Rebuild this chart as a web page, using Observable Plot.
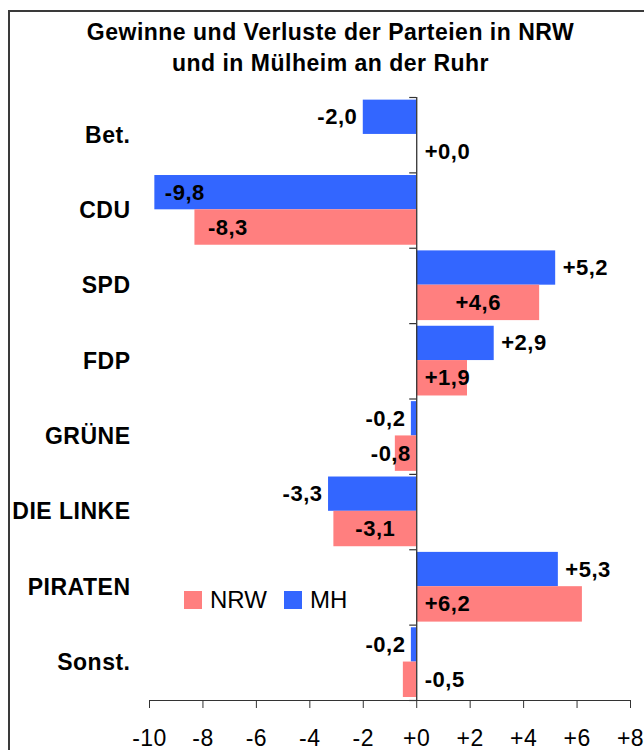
<!DOCTYPE html>
<html><head><meta charset="utf-8">
<script src="https://cdn.jsdelivr.net/npm/d3@7"></script>
<script src="https://cdn.jsdelivr.net/npm/@observablehq/plot@0.6"></script>
<style>
body{margin:0;background:#fff;}
#wrap{position:relative;width:644px;height:750px;overflow:hidden;background:#fff;font-family:'Liberation Sans',Arial,sans-serif;}
#frame{position:absolute;left:8px;top:10px;width:700px;height:800px;border:2px solid #3a3a3a;box-sizing:border-box;}
#title{position:absolute;left:0;top:17px;width:661px;text-align:center;font-weight:bold;font-size:23px;line-height:31px;letter-spacing:0.5px;color:#000;}
#chart{position:absolute;left:0;top:90px;}
#legend{position:absolute;left:184px;top:586px;}
#chart svg text{letter-spacing:0.5px;}
.lg-swatches{font-family:'Liberation Sans',Arial,sans-serif !important;font-size:24px !important;margin:0 !important;min-height:0 !important;color:#000;}
.lg-swatch{margin-right:17px !important;}
.lg-swatch > svg{margin-right:8px !important;}
</style>
</head>
<body>
<div id="wrap">
  <div id="title">Gewinne und Verluste der Parteien in NRW<br>und in Mülheim an der Ruhr</div>
  <div id="chart"></div>
  <div id="legend"></div>
  <div id="frame"></div>
</div>
<script>
const parties = ["Bet.", "CDU", "SPD", "FDP", "GRÜNE", "DIE LINKE", "PIRATEN", "Sonst."];
const mhValues = [-2.0, -9.8, 5.2, 2.9, -0.2, -3.3, 5.3, -0.2];
const nrwValues = [0.0, -8.3, 4.6, 1.9, -0.8, -3.1, 6.2, -0.5];
const seriesNames = ["NRW", "MH"];
const seriesColors = ["#FF7F7F", "#3366FF"];
const xTicks = [-10, -8, -6, -4, -2, 0, 2, 4, 6, 8];
const nrwLabelPlacement = ["right", "end", "mid", "right", "left", "mid", "right", "right"];

const xDomain = [-10, 8];
const fmt = v => (v >= 0 ? "+" : "") + v.toFixed(1).replace(".", ",");
const tickFmt = v => (v >= 0 ? "+" : "") + v;

const rows = [];
parties.forEach((p, i) => {
  rows.push({party: p, i, series: "MH", value: mhValues[i]});
  rows.push({party: p, i, series: "NRW", value: nrwValues[i]});
});

const labels = [];
parties.forEach((p, i) => {
  const v = mhValues[i];
  const inside = v - xDomain[0] < 1;
  labels.push({
    x: v, y: i + 0.2625, text: fmt(v),
    anchor: inside ? "start" : (v >= 0 ? "start" : "end"),
    dx: inside ? 10 : (v >= 0 ? 7 : -6)
  });
  const w = nrwValues[i], pl = nrwLabelPlacement[i];
  let lab;
  if (pl === "right") lab = {x: 0, anchor: "start", dx: 8};
  else if (pl === "left") lab = {x: 0, anchor: "end", dx: -6};
  else if (pl === "end") lab = {x: w, anchor: w < 0 ? "start" : "end", dx: w < 0 ? 13 : -13};
  else lab = {x: w / 2, anchor: "middle", dx: 0};
  labels.push({...lab, y: i + 0.725, text: fmt(w)});
});
const labelGroups = d3.groups(labels, d => d.anchor + "|" + d.dx);

const font = "'Liberation Sans', Arial, sans-serif";

const plot = Plot.plot({
  width: 644,
  height: 660,
  marginTop: 7,
  marginBottom: 50,
  marginLeft: 149,
  marginRight: 14,
  style: {fontFamily: font, background: "transparent", color: "#000", overflow: "visible"},
  x: {domain: xDomain},
  y: {domain: [0, parties.length], reverse: true},
  color: {type: "ordinal", domain: seriesNames, range: seriesColors},
  marks: [
    Plot.rect(rows, {
      x1: 0, x2: "value",
      y1: d => d.i + (d.series === "MH" ? 0.035 : 0.49),
      y2: d => d.i + (d.series === "MH" ? 0.49 : 0.96),
      fill: "series"
    }),
    Plot.ruleX([0], {y1: 0, y2: parties.length, stroke: "#333", strokeWidth: 1.3}),
    Plot.ruleY(d3.range(0, parties.length + 1), {y: d => d, x1: 0, x2: 0, insetLeft: -7, stroke: "#333", strokeWidth: 1.2}),
    Plot.ruleY([parties.length], {stroke: "#333", strokeWidth: 1.2}),
    Plot.axisX({ticks: xTicks, tickFormat: tickFmt, tickSize: 8, tickPadding: 21, fontSize: 23, label: null, stroke: "#333"}),
    Plot.axisY({ticks: parties.map((_, i) => i + 0.5), tickFormat: v => parties[Math.floor(v)], tickSize: 0, tickPadding: 19, fontSize: 23, fontWeight: "bold", label: null}),
    ...labelGroups.map(([k, arr]) => Plot.text(arr, {
      x: "x", y: "y", text: "text",
      textAnchor: arr[0].anchor, dx: arr[0].dx,
      fontSize: 22, fontWeight: "bold", fill: "#000"
    }))
  ]
});
document.getElementById("chart").appendChild(plot);
const legend = plot.legend("color", {swatchSize: 18, className: "lg"});
document.getElementById("legend").appendChild(legend);
</script>
</body></html>
